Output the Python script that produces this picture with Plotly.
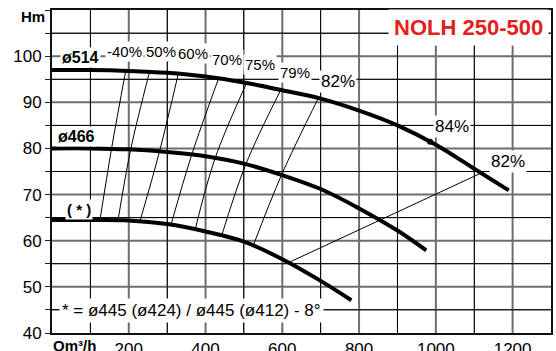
import numpy as np
import plotly.graph_objects as go

# ---- data (Q in m3/h, H in m) ----
q_514 = [0, 100, 200, 300, 400, 500, 600, 700, 800, 900, 1000, 1100, 1190]
h_514 = [97.0, 97.0, 96.8, 96.4, 95.6, 94.3, 92.6, 90.8, 88.2, 85.0, 80.8, 75.6, 70.9]
q_466 = [0, 100, 200, 300, 400, 500, 600, 700, 800, 900, 975]
h_466 = [80.0, 80.0, 79.8, 79.2, 78.3, 76.7, 74.2, 71.2, 67.0, 62.2, 57.9]
q_445 = [0, 100, 200, 300, 400, 500, 600, 700, 780]
h_445 = [64.5, 64.5, 64.4, 63.6, 62.0, 59.8, 56.0, 51.3, 47.1]

eff_labels = ["-40%", "50%", "60%", "70%", "75%", "79%", "82%"]
eff_q_514 = [192, 254, 329, 434, 507, 596, 694]
eff_q_466 = [155, 205, 280, 364, 425, 505, 598]
eff_q_445 = [125, 172, 229, 310, 373, 442, 524]

eff82_right_q = [616, 1118]      # on ø445 curve, on ø514 curve
eff84_q = 985

x_grid = list(range(0, 1301, 100))
x_labels = ["" if (v == 0 or v % 200) else str(v) for v in x_grid]
y_grid = list(range(40, 111, 5))
y_labels = [str(v) if (v % 10 == 0 and v < 110) else "" for v in y_grid]

FONT = "Liberation Sans, Arial, sans-serif"

fig = go.Figure()

# grid drawn as line traces (two tones like the printed chart)
def grid_trace(major, color, width):
    xs, ys = [], []
    for v in x_grid[1:-1]:
        if (v % 200 == 0) == major:
            xs += [v, v, None]
            ys += [y_grid[0], y_grid[-1], None]
    for v in y_grid[1:-1]:
        if (v % 10 == 0) == major:
            xs += [x_grid[0], x_grid[-1], None]
            ys += [v, v, None]
    fig.add_trace(go.Scatter(x=xs, y=ys, mode="lines", line=dict(color=color, width=width),
                             connectgaps=False, hoverinfo="skip", showlegend=False))

grid_trace(True, "#6e6e6e", 2)
grid_trace(False, "#000000", 1)

def h_on(qs, hs, q):
    return float(np.interp(q, qs, hs))

# iso-efficiency lines
for i in range(len(eff_labels)):
    qq = [eff_q_514[i], eff_q_466[i], eff_q_445[i]]
    hh = [h_on(q_514, h_514, qq[0]), h_on(q_466, h_466, qq[1]), h_on(q_445, h_445, qq[2])]
    fig.add_trace(go.Scatter(x=qq, y=hh, mode="lines",
                             line=dict(color="black", width=1, shape="spline"),
                             hoverinfo="skip", showlegend=False))

# right 82% line
fig.add_trace(go.Scatter(x=eff82_right_q,
                         y=[h_on(q_445, h_445, eff82_right_q[0]), h_on(q_514, h_514, eff82_right_q[1])],
                         mode="lines", line=dict(color="black", width=1),
                         hoverinfo="skip", showlegend=False))

# pump curves
for qs, hs in [(q_514, h_514), (q_466, h_466), (q_445, h_445)]:
    fig.add_trace(go.Scatter(x=qs, y=hs, mode="lines",
                             line=dict(color="black", width=4, shape="spline"),
                             hoverinfo="skip", showlegend=False))

# 84% marker
fig.add_trace(go.Scatter(x=[eff84_q], y=[h_on(q_514, h_514, eff84_q)], mode="markers",
                         marker=dict(color="black", size=6, symbol="circle"),
                         hoverinfo="skip", showlegend=False))

def ann(text, x, y, size=15, bold=False, color="black", bg="white", xanchor="center",
        xref="x", yref="y", pad=1):
    fig.add_annotation(text=("<b>%s</b>" % text) if bold else text, x=x, y=y,
                       xref=xref, yref=yref, showarrow=False, xanchor=xanchor, yanchor="middle",
                       font=dict(family=FONT, size=size, color=color),
                       bgcolor=bg, borderpad=pad)

# efficiency labels
eff_pos = [(190, 100.9), (283, 100.9), (367, 100.5), (456, 99.2), (543, 98.1), (633, 96.5), (745, 94.5)]
eff_sizes = [15, 15, 15, 15, 15, 15, 17]
for lab, (x, y), s in zip(eff_labels, eff_pos, eff_sizes):
    ann(lab, x, y, size=s)
ann("84%", 1043, 84.7, size=17)
ann("82%", 1187, 77.1, size=17)

ann("ø514", 73, 99.8, size=16, bold=True)
ann("ø466", 65, 82.5, size=16, bold=True)
ann("( * )", 70, 66.8, size=15, bold=True)

ann("* = ø445 (ø424) / ø445 (ø412) - 8°", 18, 44.8, size=17, xanchor="left", pad=2)

# title (white box behind it)
ann("NOLH 250-500", 1086, 106.3, size=22, bold=True, color="#e3201b", pad=5)

# axis titles
ann("Hm", -0.038, 0.98, size=15, bold=True, xref="paper", yref="paper", bg="rgba(0,0,0,0)")
ann("Qm³/h", 0.046, -0.04, size=15, bold=True, xref="paper", yref="paper", bg="rgba(0,0,0,0)")

fig.update_xaxes(range=[0, 1300], tickmode="array", tickvals=x_grid, ticktext=x_labels,
                 showgrid=True, gridcolor="#444444", gridwidth=1, ticks="",
                 showline=True, linecolor="#111", linewidth=2, mirror=True,
                 tickfont=dict(family=FONT, size=17, color="black"), zeroline=False,
                 automargin=False)
fig.update_yaxes(range=[40, 110], tickmode="array", tickvals=y_grid, ticktext=y_labels,
                 showgrid=True, gridcolor="#444444", gridwidth=1,
                 ticks="outside", ticklen=5, tickcolor="#222",
                 showline=True, linecolor="#111", linewidth=2, mirror=True,
                 tickfont=dict(family=FONT, size=17, color="black"), zeroline=False,
                 automargin=False)

fig.update_layout(width=556, height=351, margin=dict(l=52, r=5, t=10, b=18),
                  paper_bgcolor="white", plot_bgcolor="white", showlegend=False)

fig.write_html("out.html", config={"displayModeBar": False})

# remove the default page margin so the figure sits at the window's top-left
with open("out.html", "r", encoding="utf-8") as f:
    html = f.read()
html = html.replace("<body>", '<body style="margin:0;padding:0;overflow:hidden">', 1)
with open("out.html", "w", encoding="utf-8") as f:
    f.write(html)
